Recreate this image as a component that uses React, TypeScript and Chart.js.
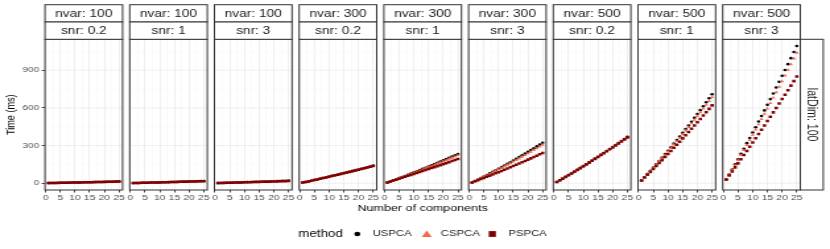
import React, { useEffect, useRef } from 'react';
import { Chart, registerables } from 'chart.js';

Chart.register(...registerables);

// ---------------- data ----------------
const components = [1, 2, 3, 4, 5, 6, 7, 8, 9, 10, 11, 12, 13, 14, 15, 16, 17, 18, 19, 20, 21, 22, 23, 24, 25];
const nvarLevels = ['100', '100', '100', '300', '300', '300', '500', '500', '500'];
const snrLevels = ['0.2', '1', '3', '0.2', '1', '3', '0.2', '1', '3'];
const latDimLabel = 'latDim: 100';
const methods = ['USPCA', 'CSPCA', 'PSPCA'];
const yTickValues = [0, 300, 600, 900];
const xTickValues = [0, 5, 10, 15, 20, 25];
const xTitle = 'Number of components';
const yTitle = 'Time (ms)';
const legendTitle = 'method';

const uspca_n100_s02 = [1, 2, 2, 3, 3, 4, 4, 5, 5, 6, 6, 7, 7, 8, 8, 9, 9, 10, 10, 11, 11, 12, 12, 13, 14];
const cspca_n100_s02 = [1, 1, 2, 2, 3, 3, 4, 4, 5, 5, 6, 6, 7, 7, 8, 8, 9, 9, 10, 10, 11, 11, 12, 13, 13];
const pspca_n100_s02 = [1, 1, 2, 2, 3, 3, 4, 4, 5, 5, 6, 6, 7, 7, 8, 8, 9, 9, 10, 10, 11, 12, 12, 13, 13];

const uspca_n100_s1 = [1, 2, 2, 3, 4, 4, 5, 6, 6, 7, 8, 8, 9, 10, 10, 11, 12, 13, 13, 14, 15, 16, 16, 17, 18];
const cspca_n100_s1 = [1, 2, 2, 3, 4, 4, 5, 5, 6, 7, 7, 8, 9, 9, 10, 11, 12, 12, 13, 14, 15, 15, 16, 17, 17];
const pspca_n100_s1 = [1, 1, 2, 3, 3, 4, 5, 5, 6, 6, 7, 8, 8, 9, 10, 10, 11, 12, 12, 13, 14, 14, 15, 16, 16];

const uspca_n100_s3 = [1, 2, 3, 3, 4, 5, 6, 6, 7, 8, 9, 10, 10, 11, 12, 13, 14, 14, 15, 16, 17, 18, 19, 20, 21];
const cspca_n100_s3 = [1, 2, 3, 3, 4, 5, 5, 6, 7, 8, 9, 9, 10, 11, 12, 13, 13, 14, 15, 16, 17, 17, 18, 19, 20];
const pspca_n100_s3 = [1, 2, 2, 3, 4, 4, 5, 6, 6, 7, 8, 8, 9, 10, 10, 11, 12, 12, 13, 14, 14, 15, 16, 16, 17];

const uspca_n300_s02 = [5, 10, 15, 20, 26, 31, 37, 42, 48, 53, 59, 64, 70, 75, 81, 86, 92, 98, 104, 109, 115, 121, 127, 133, 140];
const cspca_n300_s02 = [5, 10, 15, 20, 25, 31, 36, 42, 47, 53, 58, 64, 69, 75, 81, 86, 92, 97, 103, 109, 115, 120, 126, 132, 138];
const pspca_n300_s02 = [5, 10, 14, 19, 25, 30, 35, 41, 46, 52, 57, 63, 68, 74, 79, 85, 90, 96, 102, 107, 113, 119, 125, 131, 137];

const uspca_n300_s1 = [6, 14, 23, 32, 41, 50, 58, 68, 77, 86, 95, 104, 114, 123, 133, 143, 152, 162, 172, 182, 192, 202, 212, 223, 233];
const cspca_n300_s1 = [6, 14, 23, 31, 39, 48, 57, 65, 74, 83, 92, 100, 109, 119, 128, 137, 146, 156, 165, 174, 184, 194, 203, 213, 223];
const pspca_n300_s1 = [6, 13, 21, 28, 36, 43, 51, 59, 66, 74, 82, 89, 97, 105, 113, 121, 128, 136, 144, 152, 160, 168, 177, 185, 193];

const uspca_n300_s3 = [6, 18, 29, 41, 53, 65, 78, 90, 103, 115, 128, 141, 154, 167, 181, 194, 208, 222, 236, 250, 264, 278, 293, 308, 322];
const cspca_n300_s3 = [6, 17, 28, 40, 51, 63, 74, 86, 98, 110, 122, 134, 147, 159, 172, 185, 197, 210, 223, 237, 250, 264, 277, 291, 305];
const pspca_n300_s3 = [6, 15, 24, 33, 42, 51, 60, 70, 79, 88, 98, 108, 117, 127, 137, 147, 157, 167, 177, 188, 198, 208, 219, 230, 240];

const uspca_n500_s02 = [10, 24, 37, 51, 65, 79, 93, 107, 122, 136, 151, 166, 181, 196, 211, 226, 241, 257, 272, 288, 304, 320, 336, 352, 369];
const cspca_n500_s02 = [10, 23, 37, 51, 64, 78, 92, 107, 121, 135, 150, 165, 180, 195, 210, 225, 240, 255, 271, 287, 302, 318, 334, 350, 366];
const pspca_n500_s02 = [10, 23, 36, 50, 64, 78, 92, 106, 120, 135, 149, 164, 179, 194, 209, 224, 239, 254, 270, 285, 301, 317, 333, 349, 365];

const uspca_n500_s1 = [22, 47, 73, 98, 124, 151, 177, 204, 232, 259, 287, 315, 344, 372, 401, 431, 460, 490, 521, 551, 582, 613, 645, 676, 708];
const cspca_n500_s1 = [22, 47, 71, 97, 122, 148, 174, 200, 226, 253, 280, 307, 335, 362, 390, 419, 447, 476, 505, 534, 564, 594, 624, 654, 685];
const pspca_n500_s1 = [22, 45, 67, 90, 114, 137, 161, 184, 208, 233, 257, 282, 306, 331, 357, 382, 408, 433, 459, 486, 512, 539, 565, 592, 620];

const uspca_n500_s3 = [29, 70, 109, 151, 191, 234, 275, 319, 360, 404, 446, 491, 535, 580, 624, 670, 715, 762, 807, 855, 901, 948, 996, 1045, 1093];
const cspca_n500_s3 = [29, 67, 106, 144, 184, 223, 263, 303, 344, 385, 426, 468, 510, 552, 594, 637, 681, 724, 768, 812, 857, 902, 947, 993, 1039];
const pspca_n500_s3 = [29, 61, 93, 126, 158, 191, 224, 257, 291, 324, 358, 392, 426, 460, 495, 529, 564, 599, 634, 670, 705, 741, 777, 813, 849];

const panelSeries = [
  [uspca_n100_s02, cspca_n100_s02, pspca_n100_s02],
  [uspca_n100_s1, cspca_n100_s1, pspca_n100_s1],
  [uspca_n100_s3, cspca_n100_s3, pspca_n100_s3],
  [uspca_n300_s02, cspca_n300_s02, pspca_n300_s02],
  [uspca_n300_s1, cspca_n300_s1, pspca_n300_s1],
  [uspca_n300_s3, cspca_n300_s3, pspca_n300_s3],
  [uspca_n500_s02, cspca_n500_s02, pspca_n500_s02],
  [uspca_n500_s1, cspca_n500_s1, pspca_n500_s1],
  [uspca_n500_s3, cspca_n500_s3, pspca_n500_s3],
];

// ---------------- style ----------------
const FAMILY = "'Liberation Sans', Arial, Helvetica, sans-serif";
const CANVAS_W = 629; // drawn narrower, stretched to 830 by CSS
const CANVAS_H = 249;
const COLORS = ['#000000', '#F26A4F', '#800000'];
const POINT_STYLES = ['circle', 'triangle', 'rect'];
const POINT_RADII = [1.3, 1.8, 1.8];
const X_MIN = -0.2;
const X_MAX = 26.2;
const X_GAP = 1.212;
const Y_MIN = -54;
const Y_MAX = 1146;
const BORDER = '#333333';
const GRID_MAJOR = '#EBEBEB';
const GRID_MINOR = '#F5F5F5';
const STRIP_TOP = 4.7;
const STRIP_H = 17.3;

const xGridValues: number[] = [];
xTickValues.forEach((v, i) => {
  xGridValues.push(v);
  if (i < xTickValues.length - 1) xGridValues.push((v + xTickValues[i + 1]) / 2);
});
const yMinorValues: number[] = [];
yTickValues.forEach((v, i) => {
  const step = i < yTickValues.length - 1 ? yTickValues[i + 1] - v : v - yTickValues[i - 1];
  yMinorValues.push(v + step / 2);
});

const facetPlugin = {
  id: 'facetPlugin',
  beforeDatasetsDraw(chart: any) {
    const { ctx, scales } = chart;
    const y = scales.y;
    ctx.save();
    for (let i = 0; i < 9; i++) {
      const xs = scales['x' + i];
      const l = xs.getPixelForValue(X_MIN);
      const r = xs.getPixelForValue(X_MAX);
      ctx.lineWidth = 0.5;
      ctx.strokeStyle = GRID_MINOR;
      yMinorValues.forEach((v) => {
        const py = y.getPixelForValue(v);
        ctx.beginPath(); ctx.moveTo(l, py); ctx.lineTo(r, py); ctx.stroke();
      });
      ctx.lineWidth = 0.8;
      ctx.strokeStyle = GRID_MAJOR;
      yTickValues.forEach((v) => {
        const py = y.getPixelForValue(v);
        ctx.beginPath(); ctx.moveTo(l, py); ctx.lineTo(r, py); ctx.stroke();
      });
    }
    ctx.restore();
  },
  afterDatasetsDraw(chart: any) {
    const { ctx, scales, chartArea } = chart;
    ctx.save();
    ctx.strokeStyle = BORDER;
    ctx.lineWidth = 1;
    for (let i = 0; i < 9; i++) {
      const xs = scales['x' + i];
      const l = xs.getPixelForValue(X_MIN);
      const r = xs.getPixelForValue(X_MAX);
      ctx.strokeRect(l, chartArea.top, r - l, chartArea.bottom - chartArea.top);
    }
    ctx.restore();
  },
  afterDraw(chart: any) {
    const { ctx, scales, chartArea } = chart;
    ctx.save();
    ctx.textAlign = 'center';
    ctx.textBaseline = 'middle';
    for (let i = 0; i < 9; i++) {
      const xs = scales['x' + i];
      const l = xs.getPixelForValue(X_MIN);
      const r = xs.getPixelForValue(X_MAX);
      const labels = ['nvar: ' + nvarLevels[i], 'snr: ' + snrLevels[i]];
      labels.forEach((txt, k) => {
        const top = STRIP_TOP + k * STRIP_H;
        ctx.fillStyle = '#FFFFFF';
        ctx.fillRect(l, top, r - l, STRIP_H);
        ctx.strokeStyle = BORDER;
        ctx.lineWidth = 1;
        ctx.strokeRect(l, top, r - l, STRIP_H);
        ctx.fillStyle = '#1A1A1A';
        ctx.font = `10.4px ${FAMILY}`;
        ctx.fillText(txt, (l + r) / 2, top + STRIP_H / 2 + 0.5);
      });
    }
    // right strip
    const sl = chartArea.right;
    const sw = 17.4;
    ctx.fillStyle = '#FFFFFF';
    ctx.fillRect(sl, chartArea.top, sw, chartArea.bottom - chartArea.top);
    ctx.strokeStyle = BORDER;
    ctx.lineWidth = 1;
    ctx.strokeRect(sl, chartArea.top, sw, chartArea.bottom - chartArea.top);
    ctx.save();
    ctx.translate(sl + sw / 2, (chartArea.top + chartArea.bottom) / 2);
    ctx.rotate(Math.PI / 2);
    ctx.fillStyle = '#1A1A1A';
    ctx.font = `10.6px ${FAMILY}`;
    ctx.fillText(latDimLabel, 0, 0);
    ctx.restore();

    // x axis title (centred under the middle panel, which is the centre of all panels)
    const midScale = scales.x4;
    ctx.fillStyle = '#000000';
    ctx.font = `9.5px ${FAMILY}`;
    ctx.fillText(xTitle, midScale.getPixelForValue((X_MIN + X_MAX) / 2), 208.6);

    // legend
    const ly = 234;
    ctx.textAlign = 'left';
    ctx.fillStyle = '#000000';
    ctx.font = `10.1px ${FAMILY}`;
    ctx.fillText(legendTitle, 226.1, ly);
    ctx.font = `8.6px ${FAMILY}`;
    // USPCA circle
    ctx.fillStyle = COLORS[0];
    ctx.beginPath(); ctx.arc(270.8, ly, 2.3, 0, Math.PI * 2); ctx.fill();
    ctx.fillStyle = '#1A1A1A';
    ctx.fillText(methods[0], 282.4, ly);
    // CSPCA triangle
    ctx.fillStyle = COLORS[1];
    ctx.beginPath();
    ctx.moveTo(323.4 - 3.8, ly + 3.1);
    ctx.lineTo(323.4 + 3.8, ly + 3.1);
    ctx.lineTo(323.4, ly - 3.6);
    ctx.closePath(); ctx.fill();
    ctx.fillStyle = '#1A1A1A';
    ctx.fillText(methods[1], 334.0, ly);
    // PSPCA square
    ctx.fillStyle = COLORS[2];
    ctx.fillRect(373.1 - 2.7, ly - 2.9, 5.4, 5.8);
    ctx.fillStyle = '#1A1A1A';
    ctx.fillText(methods[2], 385.2, ly);
    ctx.restore();
  },
};

export default function App() {
  const ref = useRef<HTMLCanvasElement>(null);
  useEffect(() => {
    const canvas = ref.current;
    if (!canvas) return;

    const datasets: any[] = [];
    panelSeries.forEach((series, i) => {
      series.forEach((vals, m) => {
        datasets.push({
          label: methods[m],
          data: components.map((c, k) => ({ x: c, y: vals[k] })),
          xAxisID: 'x' + i,
          yAxisID: 'y',
          showLine: false,
          pointStyle: POINT_STYLES[m],
          pointRadius: POINT_RADII[m],
          pointHoverRadius: POINT_RADII[m],
          backgroundColor: COLORS[m],
          borderColor: COLORS[m],
          borderWidth: 0,
          order: 2 - m,
        });
      });
    });

    const scales: any = {
      y: {
        type: 'linear',
        axis: 'y',
        position: 'left',
        min: Y_MIN,
        max: Y_MAX,
        afterBuildTicks: (s: any) => { s.ticks = yTickValues.map((v) => ({ value: v })); },
        afterFit: (s: any) => { s.width = 34.1; },
        grid: { display: true, drawOnChartArea: false, drawTicks: true, tickLength: 2.5, tickColor: BORDER, tickWidth: 0.9 },
        border: { display: false },
        ticks: { color: '#4D4D4D', font: { family: FAMILY, size: 7.6 }, padding: 2 },
        title: { display: true, text: yTitle, color: '#000000', font: { family: FAMILY, size: 9.1 }, padding: { top: 3.4, bottom: 0 } },
      },
    };
    for (let i = 0; i < 9; i++) {
      scales['x' + i] = {
        type: 'linear',
        axis: 'x',
        position: 'bottom',
        stack: 'panels',
        stackWeight: i === 0 || i === 8 ? 61.5 : 64.2,
        min: i === 0 ? X_MIN : X_MIN - X_GAP,
        max: i === 8 ? X_MAX : X_MAX + X_GAP,
        afterBuildTicks: (s: any) => { s.ticks = xGridValues.map((v) => ({ value: v })); },
        afterFit: (s: any) => { s.height = 24; },
        border: { display: false },
        grid: {
          display: true,
          drawOnChartArea: true,
          drawTicks: true,
          tickLength: 2.5,
          color: (c: any) => (c.tick && xTickValues.includes(c.tick.value) ? GRID_MAJOR : GRID_MINOR),
          lineWidth: (c: any) => (c.tick && xTickValues.includes(c.tick.value) ? 0.8 : 0.5),
          tickColor: (c: any) => (c.tick && xTickValues.includes(c.tick.value) ? BORDER : 'rgba(0,0,0,0)'),
          tickWidth: 0.9,
        },
        ticks: {
          autoSkip: false,
          maxRotation: 0,
          minRotation: 0,
          padding: 1,
          color: '#4D4D4D',
          font: { family: FAMILY, size: 7.8 },
          callback: (v: any) => (xTickValues.includes(v) ? String(v) : ''),
        },
        title: { display: false },
      };
    }

    const chart = new Chart(canvas, {
      type: 'scatter',
      data: { datasets },
      options: {
        responsive: false,
        maintainAspectRatio: false,
        animation: false,
        devicePixelRatio: 1,
        events: [],
        layout: { padding: { top: 39.3, left: 0, right: 22.5, bottom: 35 } },
        plugins: { legend: { display: false }, tooltip: { enabled: false } },
        scales,
      } as any,
      plugins: [facetPlugin],
    });
    return () => chart.destroy();
  }, []);

  return (
    <div style={{ position: 'fixed', left: 0, top: 0, width: 830, height: 249, background: '#ffffff' }}>
      <canvas
        ref={ref}
        width={CANVAS_W}
        height={CANVAS_H}
        style={{ width: '830px', height: '249px', display: 'block' }}
      />
    </div>
  );
}
